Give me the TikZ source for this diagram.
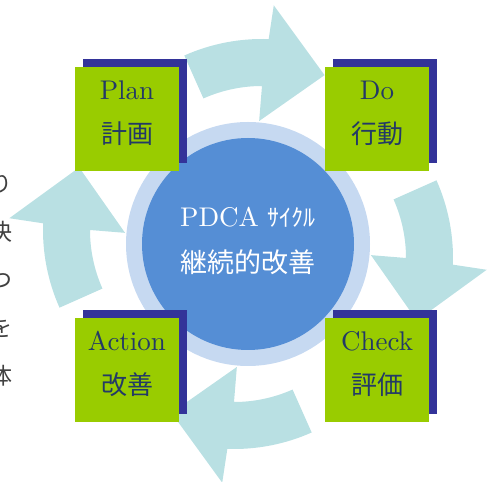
\documentclass[tikz,border=0pt]{standalone}
\usepackage{fontspec}
\newfontfamily\jpfont{Noto Sans CJK JP}
\newfontfamily\romanA{lmroman10-regular.otf}
\usetikzlibrary{shadows}
\definecolor{leaf}{HTML}{99CC00}
\definecolor{navyshade}{HTML}{333399}
\definecolor{flow}{HTML}{B9E0E3}
\definecolor{ringpale}{HTML}{C6D9F1}
\definecolor{core}{HTML}{558ED5}
\definecolor{ink}{HTML}{233A66}
\definecolor{sidegray}{HTML}{404040}
\begin{document}
\begin{tikzpicture}[x=1pt,y=1pt,
  stagebox/.style={fill=leaf, minimum width=104pt, minimum height=104pt, inner sep=0pt,
    general shadow={fill=navyshade, shadow xshift=8pt, shadow yshift=8pt}},
  latinlbl/.style={anchor=base, inner sep=0pt, text=ink, font=\romanA\fontsize{27}{30}\selectfont},
  kanjilbl/.style={anchor=base, inner sep=0pt, text=ink, font=\jpfont\fontsize{26}{30}\selectfont},
  hublatin/.style={anchor=base, inner sep=0pt, text=white, font=\romanA\fontsize{27}{30}\selectfont},
  hubkanji/.style={anchor=base, inner sep=0pt, text=white, font=\jpfont\fontsize{27}{30}\selectfont},
  sidechar/.style={anchor=base, inner sep=0pt, text=sidegray, font=\jpfont\fontsize{23}{25}\selectfont}]
\useasboundingbox (0,0) rectangle (488,482);
\clip (0,0) rectangle (488,482);

% column of text running off the left edge
\node[sidechar] (s1) at (1,289.3) {り};
\node[sidechar] (s2) at (1,241.3) {決};
\node[sidechar] (s3) at (1,193.3) {つ};
\node[sidechar] (s4) at (1,145.3) {を};
\node[sidechar] (s5) at (1,97.3) {体};

% four curved arrows around the hub
\foreach \k in {0,1,2,3}{
  \begin{scope}[shift={(248,238)}, rotate=-90*\k]
    \begin{scope}[shift={(14,14)}]
      \fill[flow] (114:144pt) -- (114:191pt)
        arc[start angle=114, end angle=88, radius=191pt]
        -- (87:225pt) -- (68:167pt) -- (91.5:109pt) -- (90:144pt)
        arc[start angle=90, end angle=114, radius=144pt] -- cycle;
    \end{scope}
  \end{scope}
}

% central hub
\node[circle, fill=ringpale, minimum size=244pt, inner sep=0pt] (ring) at (248,238) {};
\node[circle, fill=core, minimum size=212pt, inner sep=0pt] (hub) at (248,238) {};
\node[hublatin] (hubtop) at (248,255) {PDCA {\jpfont\fontsize{24}{24}\selectfont ｻｲｸﾙ}};
\node[hubkanji] (hubbottom) at (248,209) {継続的改善};

% the four stages
\node[stagebox] (plan) at (127,363) {};
\node[stagebox] (do) at (377,363) {};
\node[stagebox] (check) at (377,112) {};
\node[stagebox] (act) at (127,112) {};

\node[latinlbl] (planA) at ([yshift=19pt]plan.center) {Plan};
\node[kanjilbl] (planB) at ([yshift=-25pt]plan.center) {計画};
\node[latinlbl] (doA) at ([yshift=19pt]do.center) {Do};
\node[kanjilbl] (doB) at ([yshift=-25pt]do.center) {行動};
\node[latinlbl] (checkA) at ([yshift=19pt]check.center) {Check};
\node[kanjilbl] (checkB) at ([yshift=-25pt]check.center) {評価};
\node[latinlbl] (actA) at ([yshift=19pt]act.center) {Action};
\node[kanjilbl] (actB) at ([yshift=-25pt]act.center) {改善};
\end{tikzpicture}
\end{document}
